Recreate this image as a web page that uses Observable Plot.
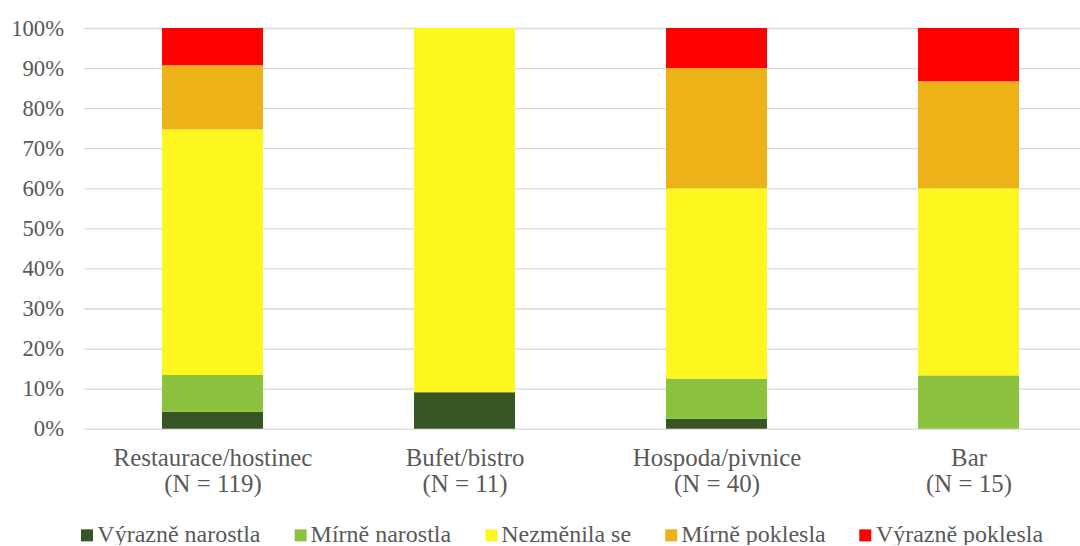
<!DOCTYPE html>
<html>
<head>
<meta charset="utf-8">
<script src="https://cdn.jsdelivr.net/npm/d3@7"></script>
<script src="https://cdn.jsdelivr.net/npm/@observablehq/plot@0.6"></script>
<style>
  body { margin: 0; padding: 0; }
  .serif { font-family: 'Liberation Serif'; }
  #legend { display: flex; align-items: center; height: 22px; padding-top: 18px; padding-left: 81px; color: #595959; font-size: 22px; line-height: 22px; transform: scale(1.09); transform-origin: 81px 50%; }
  #legend .item { display: flex; align-items: center; margin-right: 31px; white-space: nowrap; }
  #legend .sw { width: 11px; height: 11px; margin-right: 4px; display: inline-block; }
</style>
</head>
<body>
<div id="chart"></div>
<div id="legend" class="serif"></div>
<script>
const categories = ["Restaurace/hostinec", "Bufet/bistro", "Hospoda/pivnice", "Bar"];
const sampleSizes = [119, 11, 40, 15];
const seriesNames = ["Výrazně narostla", "Mírně narostla", "Nezměnila se", "Mírně poklesla", "Výrazně poklesla"];
const vyrazneNarostla = [4.2, 9.1, 2.5, 0];
const mirneNarostla   = [9.2, 0, 10.0, 13.3];
const nezmenilaSe     = [61.3, 90.9, 47.5, 46.7];
const mirnePoklesla   = [16.0, 0, 30.0, 26.7];
const vyraznePoklesla = [9.3, 0, 10.0, 13.3];
const seriesColors = ["#375623", "#8cc23d", "#fdf61f", "#edb218", "#ff0000"];
const yTicks = [0, 0.1, 0.2, 0.3, 0.4, 0.5, 0.6, 0.7, 0.8, 0.9, 1];

const seriesValues = [vyrazneNarostla, mirneNarostla, nezmenilaSe, mirnePoklesla, vyraznePoklesla];
const rows = [];
seriesNames.forEach((s, si) => {
  categories.forEach((c, ci) => {
    rows.push({category: c, series: s, value: seriesValues[si][ci]});
  });
});

const labelOf = new Map(categories.map((c, i) => [c, `${c}\n(N = ${sampleSizes[i]})`]));

const chart = Plot.plot({
  width: 1080,
  height: 505,
  marginTop: 28,
  marginBottom: 76.3,
  marginLeft: 84.5,
  marginRight: 0,
  style: {fontFamily: "'Liberation Serif'", color: "#595959", background: "white"},
  x: {domain: categories, range: [84.5, 1095.7], paddingInner: 0.6, paddingOuter: 0.3, axis: null},
  y: {domain: [0, 1]},
  color: {domain: seriesNames, range: seriesColors},
  marks: [
    Plot.ruleY(yTicks, {stroke: "#d9d9d9", strokeWidth: 1.3}),
    Plot.barY(rows, Plot.stackY({offset: "normalize", order: seriesNames, x: "category", y: "value", fill: "series"})),
    Plot.axisY(yTicks, {tickSize: 0, tickPadding: 21, tickFormat: d3.format(".0%"), fontSize: 22, fill: "#595959", label: null, fontFamily: "Liberation Serif"}),
    Plot.text(categories, {x: d => d, text: d => labelOf.get(d), frameAnchor: "bottom", lineAnchor: "top", dy: 18, fontSize: 22, lineHeight: 1.05, fill: "#595959", fontFamily: "Liberation Serif"})
  ]
});
chart.setAttribute("class", (chart.getAttribute("class") || "") + " serif");
document.getElementById("chart").appendChild(chart);

// enlarge the 22px text slightly without changing its font size
chart.querySelectorAll("text").forEach(t => {
  const k = t.textContent.trim().endsWith("%") ? 1.03 : 1.13;
  const tr = t.getAttribute("transform");
  if (tr) {
    t.setAttribute("transform", tr + ` scale(${k})`);
  } else {
    const x = +(t.getAttribute("x") || 0), y = +(t.getAttribute("y") || 0);
    t.removeAttribute("x");
    t.removeAttribute("y");
    t.querySelectorAll("tspan").forEach(ts => { if (ts.getAttribute("x") !== null) ts.setAttribute("x", 0); });
    t.setAttribute("transform", `translate(${x},${y}) scale(${k})`);
  }
});

const legend = document.getElementById("legend");
seriesNames.forEach((s, i) => {
  const item = document.createElement("div");
  item.className = "item serif";
  const sw = document.createElement("span");
  sw.className = "sw";
  sw.style.background = seriesColors[i];
  const t = document.createElement("span");
  t.className = "serif";
  t.textContent = s;
  item.appendChild(sw);
  item.appendChild(t);
  legend.appendChild(item);
});
</script>
</body>
</html>
